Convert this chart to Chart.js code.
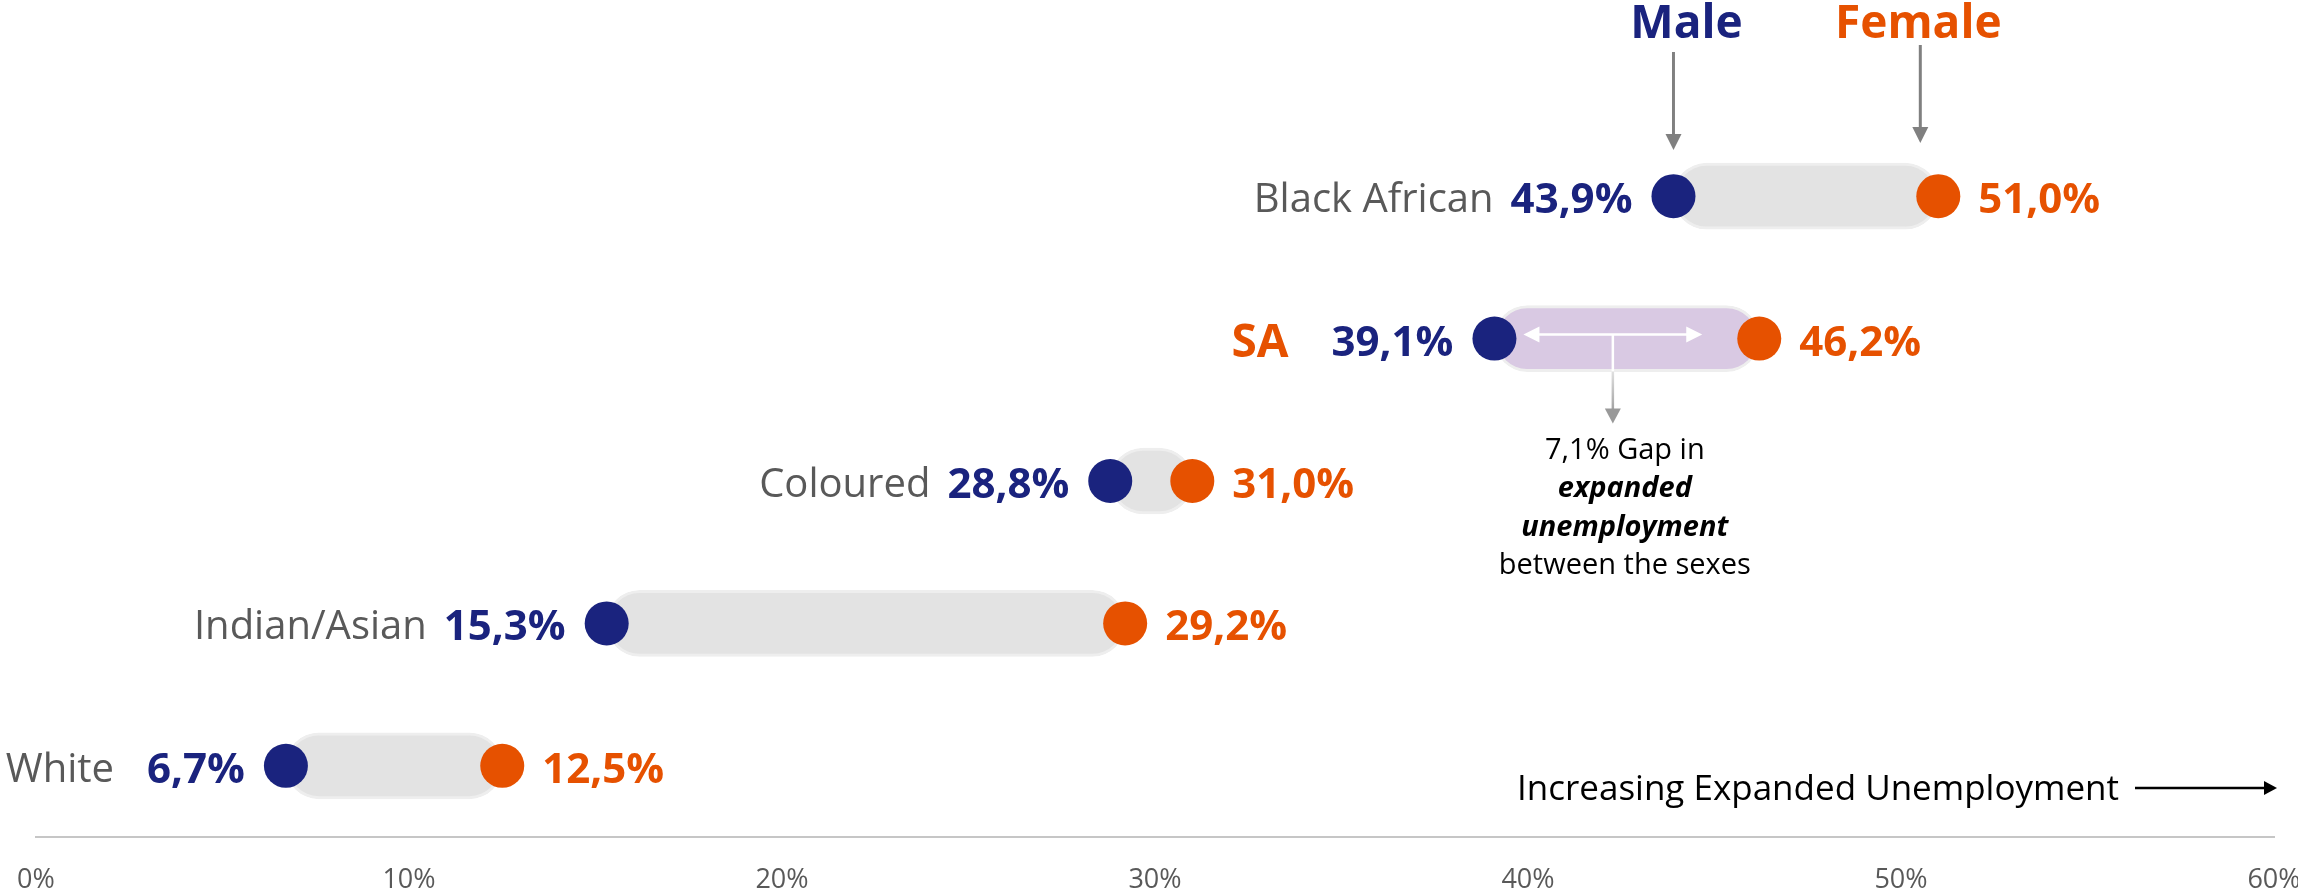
<!DOCTYPE html>
<html>
<head>
<meta charset="utf-8">
<title>Expanded unemployment by population group and sex</title>
<script src="https://cdn.jsdelivr.net/npm/chart.js@4.4.1/dist/chart.umd.min.js"></script>
<style>
  html, body { margin: 0; padding: 0; background: #fff; }
  #wrap { width: 2298px; height: 894px; position: relative; }
</style>
</head>
<body>
<div id="wrap"><canvas id="gapChart"></canvas></div>
<script>
// --- data
const categories = ['Black African', 'SA', 'Coloured', 'Indian/Asian', 'White'];
const maleRates = [43.9, 39.1, 28.8, 15.3, 6.7];
const femaleRates = [51.0, 46.2, 31.0, 29.2, 12.5];
const xTicks = [0, 10, 20, 30, 40, 50, 60];
const seriesNames = ['Male', 'Female'];
const gapNote = ['7,1% Gap in', 'expanded', 'unemployment', 'between the sexes'];
const axisNote = 'Increasing Expanded Unemployment';

const NAVY = '#1a237e';
const ORANGE = '#e65100';
const GREY_TXT = '#595959';
const FONT = '"Open Sans", "Noto Sans", sans-serif';

const fmt = v => v.toFixed(1).replace('.', ',') + '%';

function arrowHead(ctx, x, y, dir, len, half) {
    // dir: 'down' | 'left' | 'right'
    ctx.beginPath();
    if (dir === 'down') {
        ctx.moveTo(x, y); ctx.lineTo(x - half, y - len); ctx.lineTo(x + half, y - len);
    } else if (dir === 'right') {
        ctx.moveTo(x, y); ctx.lineTo(x - len, y - half); ctx.lineTo(x - len, y + half);
    } else {
        ctx.moveTo(x, y); ctx.lineTo(x + len, y - half); ctx.lineTo(x + len, y + half);
    }
    ctx.closePath();
    ctx.fill();
}

// labels, headers and the gap note, all placed from the chart scales
const annotations = {
    id: 'annotations',
    afterDatasetsDraw(chart) {
        const { ctx, chartArea, scales: { x, y } } = chart;
        ctx.save();
        ctx.textBaseline = 'alphabetic';

        categories.forEach((cat, i) => {
            const yc = y.getPixelForValue(i);
            const xm = x.getPixelForValue(maleRates[i]);
            const xf = x.getPixelForValue(femaleRates[i]);

            ctx.font = 'bold 42px ' + FONT;
            ctx.fillStyle = NAVY;
            ctx.textAlign = 'right';
            const mText = fmt(maleRates[i]);
            ctx.fillText(mText, xm - 41, yc + 17);
            const mw = ctx.measureText(mText).width;

            ctx.fillStyle = ORANGE;
            ctx.textAlign = 'left';
            ctx.fillText(fmt(femaleRates[i]), xf + 40, yc + 17);

            ctx.textAlign = 'right';
            if (cat === 'SA') {
                ctx.font = 'bold 46px ' + FONT;
                ctx.fillStyle = ORANGE;
                ctx.fillText(cat, xm - 41 - mw - 43, yc + 18);
            } else {
                ctx.font = '40px ' + FONT;
                ctx.fillStyle = GREY_TXT;
                const gap = cat === 'White' ? 33 : 17;
                ctx.fillText(cat, xm - 41 - mw - gap, yc + 16);
            }
        });

        // Male / Female headers over the top row
        const topM = x.getPixelForValue(maleRates[0]);
        const topF = x.getPixelForValue(femaleRates[0]);
        ctx.font = 'bold 46px ' + FONT;
        ctx.textAlign = 'center';
        ctx.fillStyle = NAVY;
        ctx.fillText(seriesNames[0], topM + 13, 38);
        ctx.fillStyle = ORANGE;
        ctx.fillText(seriesNames[1], topF - 20, 38);

        ctx.strokeStyle = '#808080';
        ctx.fillStyle = '#808080';
        ctx.lineWidth = 3;
        [[topM, 52, 150], [topF - 18, 45, 143]].forEach(([ax, y0, y1]) => {
            ctx.beginPath();
            ctx.moveTo(ax, y0);
            ctx.lineTo(ax, y1 - 12);
            ctx.stroke();
            arrowHead(ctx, ax, y1, 'down', 16, 8);
        });

        // gap arrows inside the SA capsule
        const si = categories.indexOf('SA');
        const sy = y.getPixelForValue(si);
        const sm = x.getPixelForValue(maleRates[si]);
        const sf = x.getPixelForValue(femaleRates[si]);
        const a0 = sm + 29, a1 = sf - 57, ay = sy - 4;
        const mid = (a0 + a1) / 2;
        ctx.strokeStyle = '#ffffff';
        ctx.fillStyle = '#ffffff';
        ctx.lineWidth = 2.5;
        ctx.beginPath();
        ctx.moveTo(a0 + 10, ay); ctx.lineTo(a1 - 10, ay);
        ctx.moveTo(mid, ay); ctx.lineTo(mid, sy + 33);
        ctx.stroke();
        arrowHead(ctx, a0, ay, 'left', 16, 8);
        arrowHead(ctx, a1, ay, 'right', 16, 8);

        const tipY = sy + 85;
        const grad = ctx.createLinearGradient(0, sy + 33, 0, tipY);
        grad.addColorStop(0, '#e0e0e0');
        grad.addColorStop(1, '#8c8c8c');
        ctx.strokeStyle = grad;
        ctx.beginPath();
        ctx.moveTo(mid, sy + 33); ctx.lineTo(mid, tipY - 12);
        ctx.stroke();
        ctx.fillStyle = '#999999';
        arrowHead(ctx, mid, tipY, 'down', 15, 8);

        // gap note
        const noteX = (sm + sf) / 2 - 2;
        ctx.fillStyle = '#000000';
        ctx.textAlign = 'center';
        gapNote.forEach((line, k) => {
            const italic = k === 1 || k === 2;
            ctx.font = (italic ? 'italic bold ' : '') + '29px ' + FONT;
            ctx.fillText(line, noteX, sy + 120 + k * 38.5);
        });

        // direction note above the axis
        const ny = chartArea.bottom - 49;
        ctx.font = '35px ' + FONT;
        ctx.fillStyle = '#000000';
        ctx.textAlign = 'right';
        ctx.fillText(axisNote, chartArea.right - 155, ny + 12);
        ctx.strokeStyle = '#000000';
        ctx.fillStyle = '#000000';
        ctx.lineWidth = 2.5;
        ctx.beginPath();
        ctx.moveTo(chartArea.right - 139, ny);
        ctx.lineTo(chartArea.right - 8, ny);
        ctx.stroke();
        arrowHead(ctx, chartArea.right + 3, ny, 'right', 13, 7);

        ctx.restore();
    }
};

new Chart(document.getElementById('gapChart'), {
    type: 'bar',
    data: {
        labels: categories,
        datasets: [
            {
                type: 'line',
                label: seriesNames[0],
                data: maleRates,
                showLine: false,
                pointRadius: 22,
                pointHoverRadius: 22,
                pointBorderWidth: 0,
                pointBackgroundColor: NAVY,
                order: 1
            },
            {
                type: 'line',
                label: seriesNames[1],
                data: femaleRates,
                showLine: false,
                pointRadius: 22,
                pointHoverRadius: 22,
                pointBorderWidth: 0,
                pointBackgroundColor: ORANGE,
                order: 1
            },
            {
                label: 'Gap',
                data: categories.map((c, i) => [maleRates[i], femaleRates[i]]),
                backgroundColor: categories.map(c => c === 'SA' ? '#d9c9e3' : '#e3e3e3'),
                borderColor: '#eeeeee',
                borderWidth: 3,
                borderSkipped: false,
                borderRadius: 40,
                barThickness: 66,
                order: 2
            }
        ]
    },
    options: {
        indexAxis: 'y',
        responsive: true,
        maintainAspectRatio: false,
        animation: false,
        layout: { autoPadding: false, padding: { top: 125, left: 36, right: 24, bottom: 0 } },
        plugins: {
            legend: { display: false },
            tooltip: { enabled: false }
        },
        scales: {
            x: {
                type: 'linear',
                min: xTicks[0],
                max: xTicks[xTicks.length - 1],
                afterBuildTicks: axis => { axis.ticks = xTicks.map(v => ({ value: v })); },
                // keep the plot area where the reference has it: fixed axis band, no overhang padding
                afterFit: axis => {
                    axis.height = 57;
                    axis.paddingLeft = 0;
                    axis.paddingRight = 0;
                },
                ticks: {
                    callback: v => v + '%',
                    color: GREY_TXT,
                    padding: 30,
                    maxRotation: 0,
                    font: { family: FONT, size: 27, weight: 'normal', lineHeight: 1 }
                },
                grid: { display: false, drawTicks: false },
                border: { display: true, color: '#c6c6c6', width: 2 }
            },
            y: {
                type: 'category',
                display: false,
                offset: true
            }
        }
    },
    plugins: [annotations]
});
</script>
</body>
</html>
